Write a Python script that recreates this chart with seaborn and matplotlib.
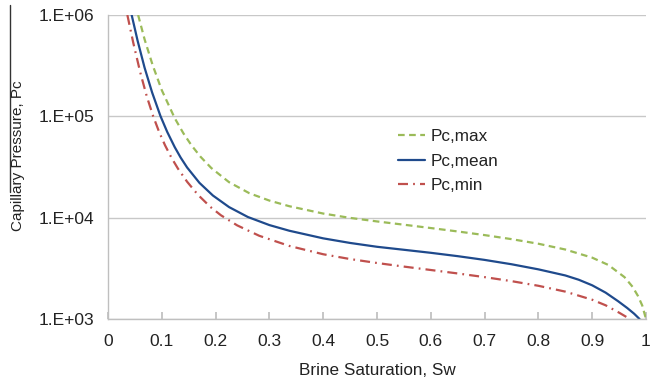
import numpy as np
import pandas as pd
import matplotlib
matplotlib.use("Agg")
import matplotlib.pyplot as plt
from matplotlib.lines import Line2D
from matplotlib.ticker import FixedLocator, FixedFormatter, NullLocator
import seaborn as sns

# ---- data ----
sw_max = [0.056, 0.068, 0.083, 0.1, 0.124, 0.14, 0.155, 0.172, 0.192, 0.225, 0.263, 0.3,
          0.337, 0.4, 0.45, 0.5, 0.55, 0.6, 0.65, 0.7, 0.75, 0.8, 0.85, 0.9, 0.93, 0.96,
          0.975, 0.985, 0.993, 1.0]
pc_max = [1e6, 575000, 320000, 181000, 96000, 68200, 51900, 39900, 30900, 22400, 17400, 14740,
          12970, 10980, 9950, 9180, 8520, 7900, 7310, 6730, 6140, 5530, 4850, 4030, 3415, 2590,
          2080, 1690, 1360, 1000]

sw_mean = [0.044, 0.055, 0.068, 0.082, 0.0975, 0.11, 0.124, 0.135, 0.147, 0.17, 0.195, 0.225,
           0.26, 0.3, 0.337, 0.4, 0.45, 0.5, 0.55, 0.6, 0.65, 0.7, 0.75, 0.8, 0.85, 0.875,
           0.9, 0.925, 0.948, 0.965, 0.978, 0.988]
pc_mean = [1e6, 558000, 302000, 172000, 100700, 70300, 49700, 39200, 31300, 22050, 16540, 12720,
           10150, 8450, 7430, 6250, 5630, 5160, 4820, 4500, 4170, 3830, 3470, 3090, 2690, 2440,
           2150, 1820, 1500, 1285, 1127, 1000]

sw_min = [0.036, 0.047, 0.06, 0.072, 0.084, 0.095, 0.106, 0.118, 0.13, 0.147, 0.167, 0.19,
          0.21, 0.24, 0.281, 0.337, 0.4, 0.45, 0.5, 0.55, 0.6, 0.65, 0.7, 0.75, 0.8, 0.85,
          0.9, 0.925, 0.95, 0.97]
pc_min = [1e6, 531000, 270700, 157900, 100100, 70200, 51800, 39000, 30500, 22640, 16860, 12800,
          10550, 8400, 6630, 5260, 4355, 3905, 3570, 3290, 3045, 2815, 2590, 2364, 2127, 1863,
          1549, 1365, 1155, 1000]

series_names = ["Pc,max", "Pc,mean", "Pc,min"]
x_ticks = [0, 0.1, 0.2, 0.3, 0.4, 0.5, 0.6, 0.7, 0.8, 0.9, 1]
x_tick_labels = ["0", "0.1", "0.2", "0.3", "0.4", "0.5", "0.6", "0.7", "0.8", "0.9", "1"]
y_ticks = [1e3, 1e4, 1e5, 1e6]
y_tick_labels = ["1.E+03", "1.E+04", "1.E+05", "1.E+06"]

sns.set_theme(style="white")
plt.rcParams["font.family"] = ["Liberation Sans", "DejaVu Sans"]

fig = plt.figure(figsize=(6.51, 3.84), dpi=100)
ax = fig.add_axes([108/651, 1-319/384, 538/651, 304/384])

colors = ["#9BBB59", "#1F4A8C", "#C0504D"]
styles = [(0, (3, 2)), "-", (0, (4.5, 2.3, 0.8, 2.3))]
for name, xs, ys, c, ls in zip(series_names, [sw_max, sw_mean, sw_min],
                               [pc_max, pc_mean, pc_min], colors, styles):
    sns.lineplot(x=xs, y=ys, ax=ax, sort=False, estimator=None, color=c,
                 linestyle=ls, linewidth=1.6, label=name)

ax.set_yscale("log")
ax.set_xlim(0, 1)
ax.set_ylim(1e3, 1e6)
ax.yaxis.set_major_locator(FixedLocator(y_ticks))
ax.yaxis.set_major_formatter(FixedFormatter(y_tick_labels))
ax.yaxis.set_minor_locator(NullLocator())
ax.set_xticks(x_ticks)
ax.set_xticklabels(x_tick_labels)

ax.grid(axis="y", color="#C8C8C8", linewidth=1)
ax.grid(axis="x", visible=False)
for s in ["top", "right"]:
    ax.spines[s].set_visible(False)
for s in ["left", "bottom"]:
    ax.spines[s].set_color("#BFBFBF")
    ax.spines[s].set_linewidth(1)

ax.tick_params(axis="x", direction="in", length=5, color="#BFBFBF", bottom=True,
               labelsize=12.5, pad=11, labelcolor="#222222")
ax.tick_params(axis="y", length=0, labelsize=12.5, pad=10, labelcolor="#222222")

ax.set_xlabel("Brine Saturation, Sw", fontsize=12.3, color="#222222", labelpad=10)
ax.set_ylabel("")
fig.text(18/651, 1-156/384, "Capillary Pressure, Pc", rotation=90, ha="center",
         va="center", fontsize=11, color="#222222")
fig.add_artist(Line2D([10/651, 10/651], [1-5/384, 1-192/384], color="#333333",
                      linewidth=1))

leg = ax.legend(loc="upper left", bbox_to_anchor=(0.51, 0.675), frameon=False,
                fontsize=12.3, handlelength=1.6, handletextpad=0.3,
                labelspacing=0.55)
for t in leg.get_texts():
    t.set_color("#222222")

fig.savefig("out.png", dpi=100)
